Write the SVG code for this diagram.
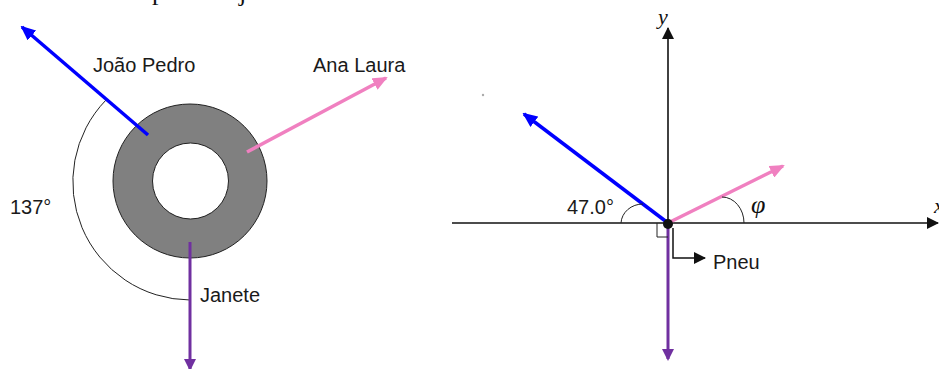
<svg xmlns="http://www.w3.org/2000/svg" width="939" height="369" viewBox="0 0 939 369">
<style>
.t{font-family:"Liberation Sans",Arial,sans-serif;font-size:20px;fill:#1a1a1a}
.m{font-family:"Liberation Serif","Times New Roman",serif;font-style:italic;font-size:22px;fill:#111}
.ax{stroke:#111;stroke-width:1.6;fill:none}
.thin{stroke:#222;stroke-width:1;fill:none}
.blue{stroke:#0000ff;stroke-width:3.5;fill:none}
.pink{stroke:#f080c0;stroke-width:3.5;fill:none}
.purple{stroke:#7030a0;stroke-width:3;fill:none}
</style>
<defs>
<marker id="hb" markerUnits="userSpaceOnUse" markerWidth="15" markerHeight="13" refX="13" refY="6.5" orient="auto"><path d="M0,0 L15,6.5 L0,13 z" fill="#0000ff"/></marker>
<marker id="hp" markerUnits="userSpaceOnUse" markerWidth="15" markerHeight="13" refX="13" refY="6.5" orient="auto"><path d="M0,0 L15,6.5 L0,13 z" fill="#f080c0"/></marker>
<marker id="hv" markerUnits="userSpaceOnUse" markerWidth="12" markerHeight="12" refX="10" refY="6" orient="auto"><path d="M0,0 L12,6 L0,12 z" fill="#7030a0"/></marker>
<marker id="hk" markerUnits="userSpaceOnUse" markerWidth="12" markerHeight="12" refX="11" refY="6" orient="auto"><path d="M0,0 L12,6 L0,12 z" fill="#111"/></marker>
</defs>

<!-- cropped fragment of text line at top -->
<text class="m" style="font-style:normal;font-size:26px" x="152" y="0">p</text>
<text class="m" style="font-style:normal;font-size:26px" x="239" y="1">j</text>

<!-- LEFT FIGURE -->
<g id="tyre">
<circle cx="190" cy="181" r="77" fill="#808080" stroke="#222" stroke-width="1"/>
<circle cx="190.5" cy="181" r="38" fill="#fff" stroke="#222" stroke-width="1"/>
</g>
<g id="angle137">
<path class="thin" d="M106,100 A118,118 0 0 0 190,300"/>
<text class="t" x="10" y="214">137°</text>
</g>
<g id="connectors-left">
<line class="blue" x1="148" y1="135" x2="22" y2="27" marker-end="url(#hb)"/>
<line class="pink" x1="247" y1="152" x2="386" y2="78" marker-end="url(#hp)"/>
<line class="purple" x1="190" y1="242" x2="190" y2="369" marker-end="url(#hv)"/>
</g>
<g id="label-joao"><text class="t" x="93" y="72">João Pedro</text></g>
<g id="label-ana"><text class="t" x="313" y="72">Ana Laura</text></g>
<g id="label-janete"><text class="t" x="200" y="302">Janete</text></g>

<!-- RIGHT FIGURE -->
<circle cx="483" cy="95" r="1.2" fill="#aaa"/>
<g id="axes">
<line class="ax" x1="452" y1="223" x2="938" y2="223" marker-end="url(#hk)"/>
<line class="ax" x1="668" y1="223" x2="668" y2="28" marker-end="url(#hk)"/>
<text class="m" x="658" y="24">y</text>
<text class="m" x="934" y="213">x</text>
</g>
<g id="connectors-right">
<line class="blue" x1="668" y1="223" x2="524" y2="114" marker-end="url(#hb)"/>
<line class="pink" x1="668" y1="223" x2="783" y2="166" marker-end="url(#hp)"/>
<line class="purple" x1="668" y1="223" x2="668" y2="359" marker-end="url(#hv)"/>
</g>
<g id="angle47">
<path class="thin" d="M621,223 A22,20 0 0 1 643,204"/>
<text class="t" x="567" y="214">47.0°</text>
</g>
<g id="anglephi">
<path class="thin" d="M722,197 A22,26 0 0 1 744,223"/>
<text class="m" style="font-size:26px" x="751" y="213">φ</text>
</g>
<g id="origin">
<path class="thin" d="M657,223 V237 H668"/>
<circle cx="668" cy="224" r="5" fill="#111"/>
</g>
<g id="pneu">
<path d="M673,228 V258 H705" stroke="#111" stroke-width="1.5" fill="none" marker-end="url(#hk)"/>
<text class="t" x="713" y="269">Pneu</text>
</g>
</svg>
